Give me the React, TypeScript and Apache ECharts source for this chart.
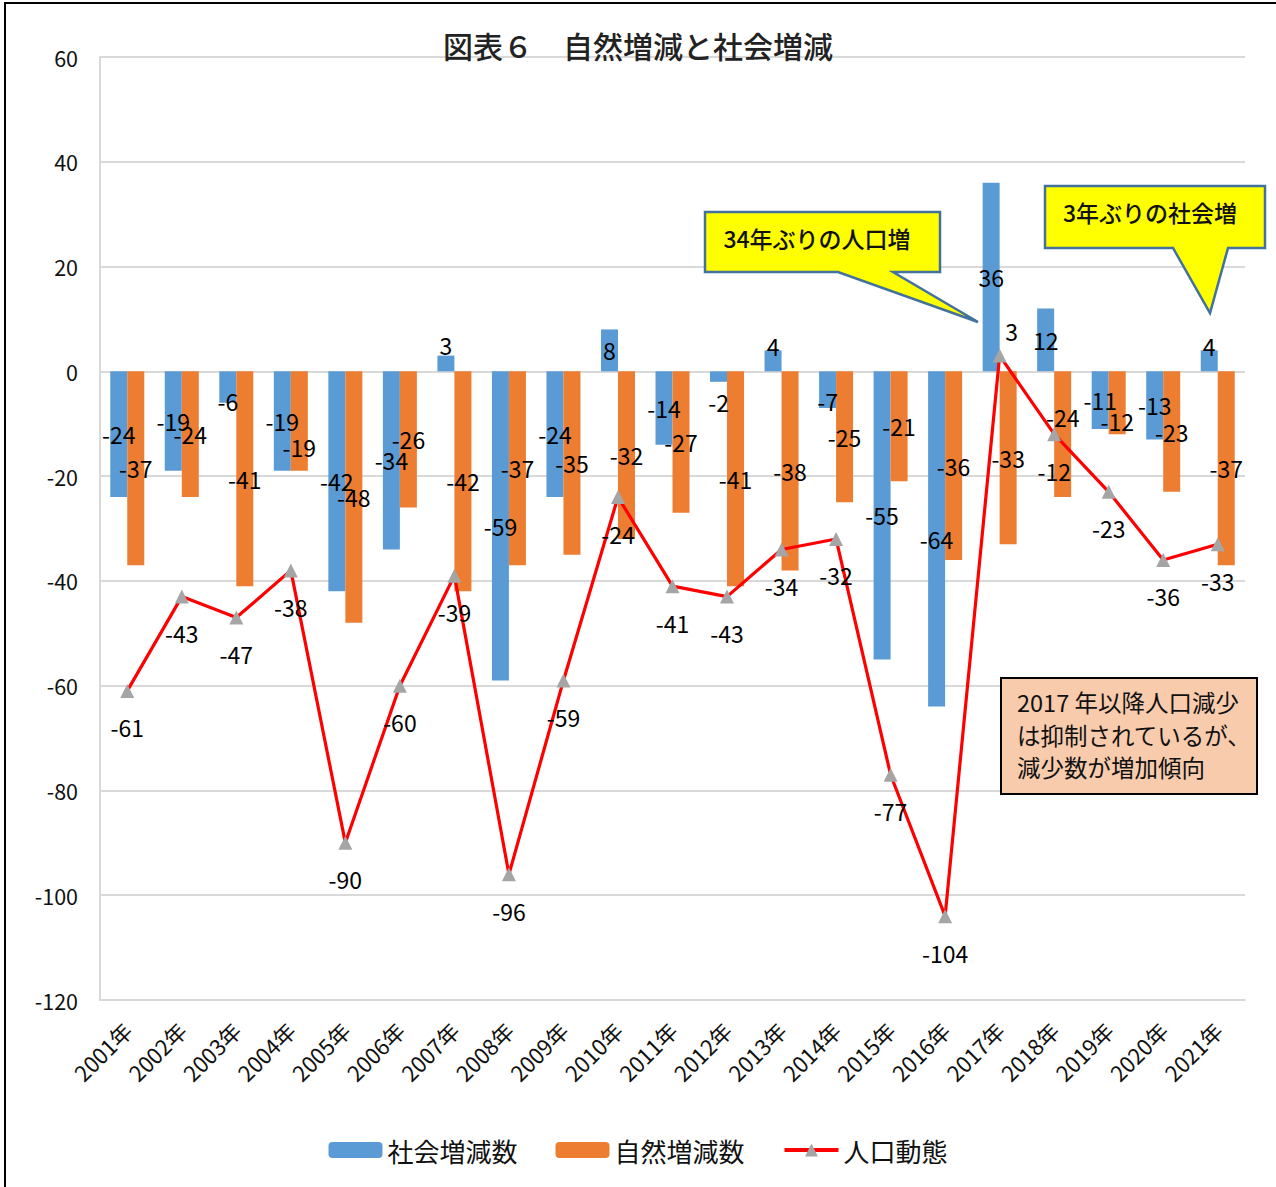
import React, { useEffect, useRef } from "react";
import * as echarts from "echarts";

const years = ["2001年","2002年","2003年","2004年","2005年","2006年","2007年","2008年","2009年","2010年","2011年","2012年","2013年","2014年","2015年","2016年","2017年","2018年","2019年","2020年","2021年"];
const social = [-24, -19, -6, -19, -42, -34, 3, -59, -24, 8, -14, -2, 4, -7, -55, -64, 36, 12, -11, -13, 4];
const natural = [-37, -24, -41, -19, -48, -26, -42, -37, -35, -32, -27, -41, -38, -25, -21, -36, -33, -24, -12, -23, -37];
const population = [-61, -43, -47, -38, -90, -60, -39, -96, -59, -24, -41, -43, -34, -32, -77, -104, 3, -12, -23, -36, -33];
const yTicks = { min: -120, max: 60, interval: 20 };

// label nudges (styling only), index -> vertical offset in px
const socialLabelNudge: Record<number, number> = { 2: 14, 6: -18, 11: 25, 12: -15, 13: 11, 20: -15 };
const naturalLabelNudge: Record<number, number> = { 3: 26, 17: -17, 18: 18 };

const FONT = "'Noto Sans CJK JP', 'Noto Sans', sans-serif";

export default function App() {
  const ref = useRef<HTMLDivElement>(null);
  useEffect(() => {
    if (!ref.current) return;
    const chart = echarts.init(ref.current, undefined, { renderer: "svg" });
    const mkBar = (vals: number[], nudge: Record<number, number>) =>
      vals.map((v, i) =>
        nudge[i] !== undefined ? { value: v, label: { offset: [0, nudge[i]] } } : v
      );
    const popData = population.map((v, i) =>
      i === 16
        ? { value: v, label: { position: "top", offset: [12, 0], distance: 6 } }
        : v
    );
    chart.setOption({
      animation: false,
      textStyle: { fontFamily: FONT },
      title: {
        text: "図表６　自然増減と社会増減",
        left: "center",
        top: 25,
        textStyle: { fontSize: 30, fontWeight: 500, color: "#222", fontFamily: FONT },
      },
      legend: {
        bottom: 19,
        left: "center",
        itemWidth: 54,
        itemHeight: 16,
        itemGap: 38,
        textStyle: { fontSize: 26, color: "#111", fontFamily: FONT },
        data: [
          { name: "社会増減数" },
          { name: "自然増減数" },
          { name: "人口動態", lineStyle: { width: 4, color: "#ff0000" } },
        ],
      },
      grid: { left: 100, right: 31, top: 57, bottom: 187, containLabel: false },
      xAxis: {
        type: "category",
        data: years,
        axisTick: { show: false },
        axisLine: { show: true, onZero: false, lineStyle: { color: "#d9d9d9", width: 2 } },
        axisLabel: { rotate: 45, fontSize: 22, color: "#111", margin: 26, interval: 0 },
      },
      yAxis: {
        type: "value",
        min: yTicks.min,
        max: yTicks.max,
        interval: yTicks.interval,
        axisLine: { show: true, lineStyle: { color: "#d9d9d9", width: 2 } },
        axisTick: { show: false },
        splitLine: { lineStyle: { color: "#d9d9d9", width: 2 } },
        axisLabel: { fontSize: 21.5, color: "#111", margin: 22 },
      },
      series: [
        {
          name: "社会増減数",
          type: "bar",
          data: mkBar(social, socialLabelNudge),
          barWidth: 17,
          barGap: "0%",
          itemStyle: { color: "#5b9bd5" },
          label: { show: true, position: "inside", fontSize: 23, color: "#000" },
          z: 2,
        },
        {
          name: "自然増減数",
          type: "bar",
          data: mkBar(natural, naturalLabelNudge),
          barWidth: 17,
          barGap: "0%",
          itemStyle: { color: "#ed7d31" },
          label: { show: true, position: "inside", fontSize: 23, color: "#000" },
          z: 2,
        },
        {
          name: "人口動態",
          type: "line",
          data: popData,
          symbol: "triangle",
          symbolSize: 14,
          lineStyle: { color: "#ff0000", width: 3.2 },
          itemStyle: { color: "#a5a5a5" },
          label: { show: true, position: "bottom", distance: 18, fontSize: 23, color: "#000" },
          z: 3,
        },
      ],
      graphic: [
        {
          type: "rect",
          shape: { x: 5, y: 3, width: 1400, height: 1400 },
          style: { fill: "none", stroke: "#000", lineWidth: 2 },
          silent: true,
        },
        {
          type: "polygon",
          shape: {
            points: [[705, 212], [940, 212], [940, 272], [893, 272], [978, 322], [838, 272], [705, 272]],
          },
          style: { fill: "#ffff00", stroke: "#41719c", lineWidth: 2.5 },
          z: 10,
        },
        {
          type: "text",
          x: 817,
          y: 238,
          style: {
            text: "34年ぶりの人口増",
            fontSize: 23,
            fontWeight: 500,
            fill: "#111",
            align: "center",
            verticalAlign: "middle",
            fontFamily: FONT,
          },
          z: 11,
        },
        {
          type: "polygon",
          shape: {
            points: [[1045, 186], [1265, 186], [1265, 248], [1228, 248], [1210, 313], [1173, 248], [1045, 248]],
          },
          style: { fill: "#ffff00", stroke: "#41719c", lineWidth: 2.5 },
          z: 10,
        },
        {
          type: "text",
          x: 1150,
          y: 212,
          style: {
            text: "3年ぶりの社会増",
            fontSize: 23,
            fontWeight: 500,
            fill: "#111",
            align: "center",
            verticalAlign: "middle",
            fontFamily: FONT,
          },
          z: 11,
        },
        {
          type: "rect",
          shape: { x: 1001, y: 678, width: 256, height: 116 },
          style: { fill: "#f8cbad", stroke: "#000", lineWidth: 2 },
          z: 10,
        },
        {
          type: "text",
          x: 1017,
          y: 686,
          style: {
            text: "2017 年以降人口減少\nは抑制されているが、\n減少数が増加傾向",
            fontSize: 23.5,
            lineHeight: 32.5,
            fill: "#111",
            align: "left",
            verticalAlign: "top",
            fontFamily: FONT,
          },
          z: 11,
        },
      ],
    });
    return () => chart.dispose();
  }, []);
  return (
    <div
      ref={ref}
      style={{ position: "absolute", left: 0, top: 0, width: 1276, height: 1187, background: "#fff" }}
    />
  );
}
